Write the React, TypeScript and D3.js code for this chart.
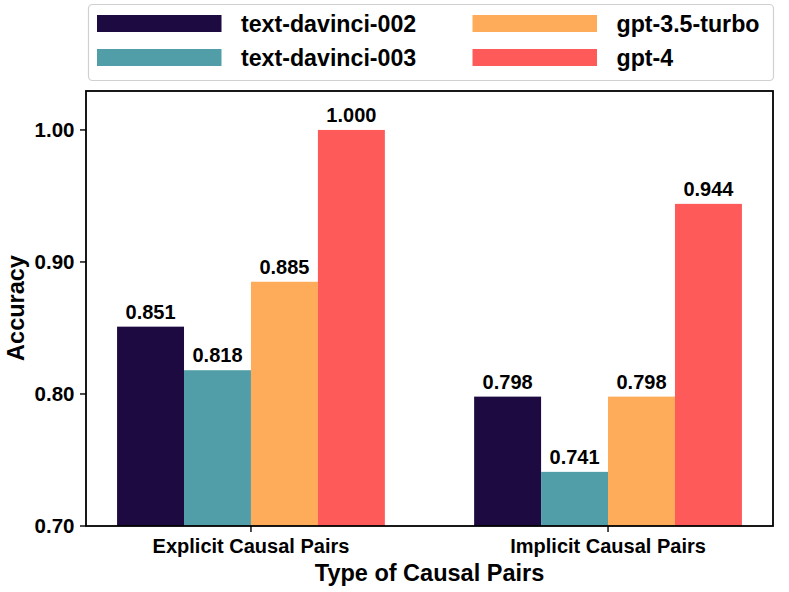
import React from "react";
import * as d3 from "d3";

const categories = ["Explicit Causal Pairs", "Implicit Causal Pairs"];
const seriesNames = ["text-davinci-002", "text-davinci-003", "gpt-3.5-turbo", "gpt-4"];
const seriesColors = ["#1d0a40", "#519ea8", "#ffac5a", "#ff5a5a"];
const davinci002 = [0.851, 0.798];
const davinci003 = [0.818, 0.741];
const gpt35 = [0.885, 0.798];
const gpt4 = [1.0, 0.944];
const yTicks = [0.7, 0.8, 0.9, 1.0];

const series = [davinci002, davinci003, gpt35, gpt4];

const W = 789;
const H = 592;
const L = 86, R = 773, T = 91, B = 526;
const FONT = "'Liberation Sans', Arial, Helvetica, sans-serif";

function Txt({ x, y, size, anchor = "start", children, rotate = 0 }: any) {
  const tf = rotate ? `translate(${x},${y}) rotate(${rotate})` : `translate(${x},${y})`;
  return (
    <text transform={tf} fontFamily={FONT} fontWeight="bold" fontSize={size} textAnchor={anchor} fill="#000">
      {children}
    </text>
  );
}

export default function App() {
  const x = d3.scaleLinear().domain([-0.462, 1.462]).range([L, R]);
  const y = d3.scaleLinear().domain([0.7, 1.0295]).range([B, T]);
  const bw = 0.1875;

  return (
    <svg width={W} height={H} style={{ position: "absolute", left: 0, top: 0, background: "#fff" }}>
      <rect x={0} y={0} width={W} height={H} fill="#fff" />
      {/* bars */}
      {series.map((vals, si) =>
        vals.map((v, ci) => {
          const x0 = x(ci + (si - 2) * bw);
          const x1 = x(ci + (si - 1) * bw);
          return (
            <g key={`${si}-${ci}`}>
              <rect x={x0} y={y(v)} width={x1 - x0} height={B - y(v)} fill={seriesColors[si]} />
              <Txt x={(x0 + x1) / 2} y={y(v) - 8} size={20} anchor="middle">
                {v.toFixed(3)}
              </Txt>
            </g>
          );
        })
      )}
      {/* frame */}
      <rect x={L} y={T} width={R - L} height={B - T} fill="none" stroke="#000" strokeWidth={1.8} />
      {/* y ticks */}
      {yTicks.map((t) => (
        <g key={t}>
          <line x1={L - 6} x2={L} y1={y(t)} y2={y(t)} stroke="#000" strokeWidth={1.4} />
          <Txt x={L - 11.5} y={y(t) + 7.3} size={20.5} anchor="end">
            {t.toFixed(2)}
          </Txt>
        </g>
      ))}
      {/* x ticks */}
      {categories.map((c, ci) => (
        <g key={c}>
          <line x1={x(ci)} x2={x(ci)} y1={B} y2={B + 6} stroke="#000" strokeWidth={1.4} />
          <Txt x={x(ci)} y={553} size={20} anchor="middle">
            {c}
          </Txt>
        </g>
      ))}
      {/* axis titles */}
      <Txt x={(L + R) / 2} y={581} size={23.5} anchor="middle">
        Type of Causal Pairs
      </Txt>
      <Txt x={23.5} y={308} size={23.5} anchor="middle" rotate={-90}>
        Accuracy
      </Txt>
      {/* legend */}
      <rect x={88.5} y={4.5} width={685} height={76} rx={4} ry={4} fill="#fff" stroke="#d0d0d0" strokeWidth={1.2} />
      {seriesNames.map((n, i) => {
        const col = i < 2 ? 0 : 1;
        const row = i % 2;
        const px = col === 0 ? 97 : 472.5;
        const py = row === 0 ? 15 : 49;
        return (
          <g key={n}>
            <rect x={px} y={py} width={124.5} height={17} fill={seriesColors[i]} />
            <Txt x={px + 144} y={py + 16.5} size={23.2}>
              {n}
            </Txt>
          </g>
        );
      })}
    </svg>
  );
}
